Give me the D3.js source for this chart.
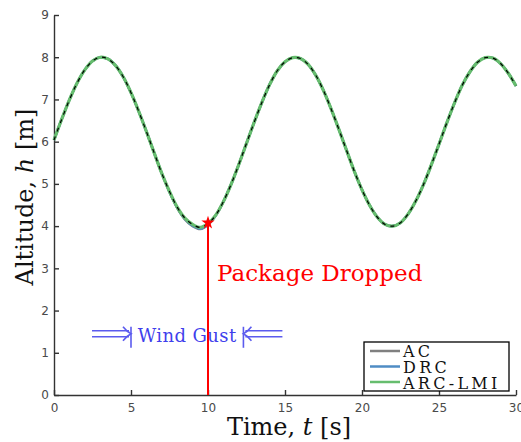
<!DOCTYPE html>
<html>
<head>
<meta charset="utf-8">
<script src="https://cdn.jsdelivr.net/npm/d3@7"></script>
<style>
  body { margin: 0; background: #fff; }
  .tick text { font-family: "DejaVu Sans", sans-serif; font-size: 12px; fill: #4a4a4a; }
  .axis path, .axis line { stroke: #333; stroke-width: 1.4; }
</style>
</head>
<body>
<script>
// time samples [s]
var time = [0,0.5,1,1.5,2,2.5,3,3.5,4,4.5,5,5.5,6,6.5,7,7.5,8,8.5,9,9.5,
  10,10.5,11,11.5,12,12.5,13,13.5,14,14.5,15,15.5,16,16.5,17,17.5,18,18.5,19,19.5,
  20,20.5,21,21.5,22,22.5,23,23.5,24,24.5,25,25.5,26,26.5,27,27.5,28,28.5,29,29.5,30];

// reference altitude (black dashed)
var reference = [6.04,6.53,6.99,7.39,7.70,7.91,8.00,7.96,7.80,7.53,7.16,6.72,6.24,5.74,5.25,4.82,4.45,4.19,4.04,3.97,
  4.06,4.26,4.58,4.99,5.46,5.96,6.46,6.93,7.35,7.68,7.89,7.99,7.97,7.83,7.57,7.21,6.77,6.29,5.79,5.30,
  4.86,4.49,4.21,4.04,4.00,4.08,4.29,4.60,4.99,5.45,5.94,6.44,6.91,7.33,7.65,7.88,7.99,7.98,7.85,7.62,7.32];

var ac = [6.04,6.53,6.99,7.39,7.70,7.91,8.00,7.96,7.80,7.53,7.16,6.72,6.24,5.74,5.25,4.81,4.43,4.16,4.00,3.93,
  4.03,4.25,4.58,4.99,5.46,5.96,6.46,6.93,7.35,7.68,7.89,7.99,7.97,7.83,7.57,7.21,6.77,6.29,5.79,5.30,
  4.86,4.49,4.21,4.04,4.00,4.08,4.29,4.60,4.99,5.45,5.94,6.44,6.91,7.33,7.65,7.88,7.99,7.98,7.85,7.62,7.32];

var drc = [6.04,6.53,6.99,7.39,7.70,7.91,8.00,7.96,7.80,7.53,7.16,6.72,6.24,5.74,5.25,4.81,4.44,4.17,4.01,3.94,
  4.04,4.25,4.58,4.99,5.46,5.96,6.46,6.93,7.35,7.68,7.89,7.99,7.97,7.83,7.57,7.21,6.77,6.29,5.79,5.30,
  4.86,4.49,4.21,4.04,4.00,4.08,4.29,4.60,4.99,5.45,5.94,6.44,6.91,7.33,7.65,7.88,7.99,7.98,7.85,7.62,7.32];

var arcLmi = [6.04,6.53,6.99,7.39,7.70,7.91,8.00,7.96,7.80,7.53,7.16,6.72,6.24,5.74,5.25,4.82,4.45,4.19,4.04,3.97,
  4.06,4.26,4.58,4.99,5.46,5.96,6.46,6.93,7.35,7.68,7.89,7.99,7.97,7.83,7.57,7.21,6.77,6.29,5.79,5.30,
  4.86,4.49,4.21,4.04,4.00,4.08,4.29,4.60,4.99,5.45,5.94,6.44,6.91,7.33,7.65,7.88,7.99,7.98,7.85,7.62,7.32];

var seriesNames = ["AC", "DRC", "ARC-LMI"];
var seriesColors = ["#808080", "#4f8cc4", "#66bd6e"];
var xTicks = [0,5,10,15,20,25,30];
var yTicks = [0,1,2,3,4,5,6,7,8,9];

// events
var dropTime = 10, dropHeight = 4.08;
var gustStart = 5, gustEnd = 12.3, gustHeight = 1.45;

var width = 521, height = 442;

var svg = d3.select("body").append("svg")
  .attr("width", width)
  .attr("height", height);

var x = d3.scaleLinear().domain([0,30]).range([54,516]);
var y = d3.scaleLinear().domain([0,9]).range([395,15]);

//axes, ticks pointing inward
svg.append("g")
  .attr("class","axis")
  .attr("transform","translate(0,395)")
  .call(d3.axisBottom(x).tickValues(xTicks).tickSizeInner(-5).tickSizeOuter(0).tickPadding(8));

svg.append("g")
  .attr("class","axis")
  .attr("transform","translate(54,0)")
  .call(d3.axisLeft(y).tickValues(yTicks).tickSizeInner(-5).tickSizeOuter(0).tickPadding(5));

//curves
var line = function(vals){
  return d3.line()
    .x(function(d,i){return x(time[i]);})
    .y(function(d){return y(d);})
    .curve(d3.curveCatmullRom)(vals);
};

var curves = [ac, drc, arcLmi];
curves.forEach(function(vals,i){
  svg.append("path")
    .attr("d", line(vals))
    .attr("fill","none")
    .attr("stroke", seriesColors[i])
    .attr("stroke-width", i==2 ? 3.2 : 2.5);
});

svg.append("path")
  .attr("d", line(reference))
  .attr("fill","none")
  .attr("stroke","#000")
  .attr("stroke-width",1.2)
  .attr("stroke-dasharray","4,5");

//package dropped
svg.append("line")
  .attr("x1",x(dropTime)).attr("x2",x(dropTime))
  .attr("y1",y(0)).attr("y2",y(dropHeight))
  .attr("stroke","#f00").attr("stroke-width",2);

svg.append("path")
  .attr("d", d3.symbol().type(d3.symbolStar).size(55)())
  .attr("transform","translate("+x(dropTime)+","+y(dropHeight)+")")
  .attr("fill","#f00");

svg.append("text")
  .attr("x", 217)
  .attr("y", 281)
  .attr("font-family","DejaVu Serif, serif")
  .attr("font-size",23)
  .attr("fill","#f00")
  .text("Package Dropped");

//wind gust
var blue = "#3f3fec";
var gy = y(gustHeight);
var g1 = x(gustStart), g2 = x(gustEnd);
var gust = svg.append("g").attr("stroke", blue).attr("fill","none").attr("stroke-width",1.6).attr("opacity",0.85);
gust.append("line").attr("x1",g1-39).attr("x2",g1-2).attr("y1",gy-3).attr("y2",gy-3);
gust.append("line").attr("x1",g1-39).attr("x2",g1-2).attr("y1",gy+3).attr("y2",gy+3);
gust.append("path").attr("d","M"+(g1-8)+","+(gy-7)+" Q"+(g1-4)+","+(gy-2)+" "+g1+","+gy+" Q"+(g1-4)+","+(gy+2)+" "+(g1-8)+","+(gy+7));
gust.append("line").attr("x1",g1).attr("x2",g1).attr("y1",gy-7).attr("y2",gy+14);
gust.append("line").attr("x1",g2).attr("x2",g2).attr("y1",gy-7).attr("y2",gy+14);
gust.append("line").attr("x1",g2+2).attr("x2",g2+39).attr("y1",gy-3).attr("y2",gy-3);
gust.append("line").attr("x1",g2+2).attr("x2",g2+39).attr("y1",gy+3).attr("y2",gy+3);
gust.append("path").attr("d","M"+(g2+8)+","+(gy-7)+" Q"+(g2+4)+","+(gy-2)+" "+g2+","+gy+" Q"+(g2+4)+","+(gy+2)+" "+(g2+8)+","+(gy+7));

svg.append("text")
  .attr("x", (g1+g2)/2)
  .attr("y", gy+8)
  .attr("text-anchor","middle")
  .attr("font-family","DejaVu Serif, serif")
  .attr("font-size",18)
  .attr("fill",blue)
  .attr("letter-spacing",0.4)
  .text("Wind Gust");

// red line drawn over the text in the reference
svg.append("line")
  .attr("x1",x(dropTime)).attr("x2",x(dropTime))
  .attr("y1",gy-12).attr("y2",gy+14)
  .attr("stroke","#f00").attr("stroke-width",2);

//legend
var legend = svg.append("g").attr("transform","translate(364,342)");
legend.append("rect")
  .attr("width",145).attr("height",49)
  .attr("fill","#fff").attr("stroke","#000").attr("stroke-width",1.3);

legend.selectAll("line.key")
  .data(seriesNames)
  .enter().append("line")
  .attr("class","key")
  .attr("x1",6).attr("x2",36)
  .attr("y1",function(d,i){return 9+15.5*i;})
  .attr("y2",function(d,i){return 9+15.5*i;})
  .attr("stroke",function(d,i){return seriesColors[i];})
  .attr("stroke-width",2.5);

legend.selectAll("text")
  .data(seriesNames)
  .enter().append("text")
  .attr("x",39)
  .attr("y",function(d,i){return 15+16*i;})
  .attr("font-family","DejaVu Serif, serif")
  .attr("font-size",16)
  .attr("letter-spacing",3.3)
  .attr("fill","#111")
  .text(function(d){return d;});

//axis titles
var xt = svg.append("text")
  .attr("x",289)
  .attr("y",435)
  .attr("text-anchor","middle")
  .attr("font-family","DejaVu Serif, serif")
  .attr("font-size",24)
  .attr("fill","#111");
xt.append("tspan").text("Time, ");
xt.append("tspan").attr("font-style","italic").text("t");
xt.append("tspan").text(" [s]");

var yt = svg.append("text")
  .attr("transform","translate(33,197) rotate(-90)")
  .attr("text-anchor","middle")
  .attr("font-family","DejaVu Serif, serif")
  .attr("font-size",24)
  .attr("fill","#111");
yt.append("tspan").text("Altitude, ");
yt.append("tspan").attr("font-style","italic").text("h");
yt.append("tspan").text(" [m]");
</script>
</body>
</html>
